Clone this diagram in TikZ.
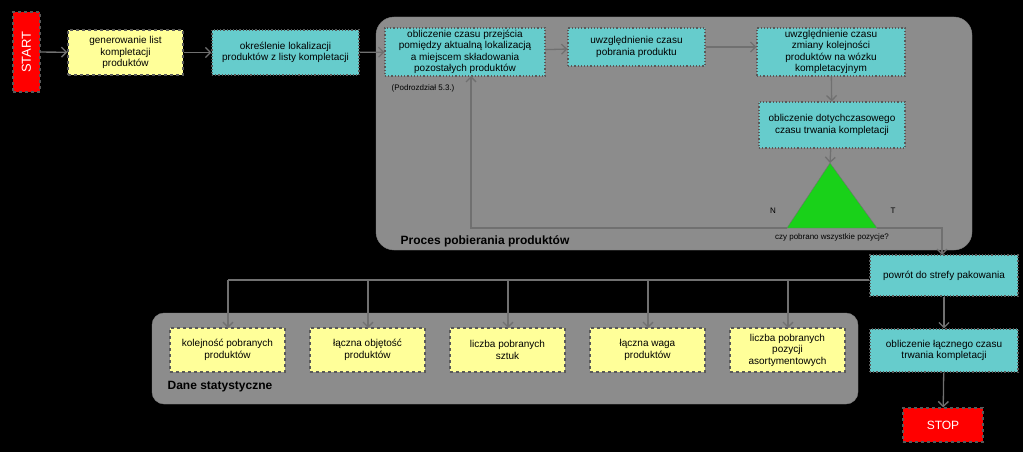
\documentclass[tikz,border=0pt]{standalone}
\usepackage{fontspec}
\setmainfont{Liberation Sans}
\usetikzlibrary{arrows.meta}
\definecolor{teal1}{HTML}{66CCCC}
\definecolor{yel}{HTML}{FFFF99}
\definecolor{grp}{HTML}{8C8C8C}
\definecolor{ln}{HTML}{707070}
\begin{document}
\begin{tikzpicture}[x=1pt,y=-1pt,
  base/.style={font=\fontsize{10}{11.5}\selectfont,align=center,inner sep=1pt,draw=black!65,line width=1.2pt},
  tbox/.style={base,fill=teal1,dotted},
  ybox/.style={base,fill=yel,dashed},
  rbox/.style={base,fill=red,dashed,text=white},
  grpbox/.style={fill=grp,draw=black!50,rounded corners=18pt},
  arr/.style={draw=ln,line width=1.3pt,-{Straight Barb[length=5pt,width=10pt]}},
  lin/.style={draw=ln,line width=1.3pt}]
\fill[black] (0,0) rectangle (1023,452);
\useasboundingbox (0,0) rectangle (1023,452);
\path[grpbox] (376,17) rectangle (972,250);
\path[grpbox,rounded corners=12pt] (152,313) rectangle (858,404);
\node[rbox,minimum width=27,minimum height=80] (start) at (26.5,52) {};
\node[text=white,rotate=90,font=\fontsize{13}{15}\selectfont] (startt) at (26.5,52) {START};
\node[ybox,minimum width=115,minimum height=45] (gen) at (125.5,52.5) {generowanie list\\kompletacji\\produktów};
\node[tbox,minimum width=147,minimum height=45] (okr) at (285.5,52.5) {określenie lokalizacji\\produktów z listy kompletacji};
\node[tbox,minimum width=160,minimum height=48] (obl) at (465,52) {obliczenie czasu przejścia\\pomiędzy aktualną lokalizacją\\a miejscem składowania\\pozostałych produktów};
\node[tbox,minimum width=137,minimum height=38] (pob) at (636.5,47) {uwzględnienie czasu\\pobrania produktu};
\node[tbox,minimum width=148,minimum height=48] (zm) at (831,52) {uwzględnienie czasu\\zmiany kolejności\\produktów na wózku\\kompletacyjnym};
\node[tbox,minimum width=146,minimum height=46] (dot) at (832,125) {obliczenie dotychczasowego\\czasu trwania kompletacji};
\node[font=\fontsize{8}{9}\selectfont] (pod) at (423,88) {(Podrozdział 5.3.)};
\draw[fill=green!80!black!90,draw=ln] (830,163) coordinate (apex) -- (877,228) coordinate (tr) -- (787,228) coordinate (tl) -- cycle;
\node[font=\fontsize{8}{9}\selectfont] (N) at (773,211) {N};
\node[font=\fontsize{8}{9}\selectfont] (T) at (893,211) {T};
\node[font=\fontsize{8}{9}\selectfont] (czy) at (832,237) {czy pobrano wszystkie pozycje?};
\node[font=\bfseries\fontsize{12}{14}\selectfont] (proc) at (485,241) {Proces pobierania produktów};
\node[tbox,minimum width=148,minimum height=41] (pow) at (944,275.5) {powrót do strefy pakowania};
\node[tbox,minimum width=148,minimum height=43] (lacz) at (944,350.5) {obliczenie łącznego czasu\\trwania kompletacji};
\node[rbox,minimum width=80,minimum height=34,font=\fontsize{12}{14}\selectfont] (stop) at (943,425) {STOP};
\node[font=\bfseries\fontsize{12}{14}\selectfont] (dane) at (220,387) {Dane statystyczne};
\node[ybox,minimum width=115,minimum height=44] (d1) at (227.5,350) {kolejność pobranych\\produktów};
\node[ybox,minimum width=115,minimum height=44] (d2) at (367.5,350) {łączna objętość\\produktów};
\node[ybox,minimum width=115,minimum height=44] (d3) at (507.5,350) {liczba pobranych\\sztuk};
\node[ybox,minimum width=115,minimum height=44] (d4) at (647.5,350) {łączna waga\\produktów};
\node[ybox,minimum width=115,minimum height=44] (d5) at (787.5,350) {liczba pobranych\\pozycji\\asortymentowych};
\coordinate (split) at (228,280);
\draw[arr] (start) -- (gen);
\draw[arr] (gen) -- (okr);
\draw[arr] (okr) -- (obl);
\draw[arr] (obl) -- (pob);
\draw[arr] (pob.east) -- (pob.east -| zm.west);
\draw[arr] (zm) -- (dot);
\draw[arr] (dot) -- (apex);
\draw[arr] (tl) -- (471,228) -- (471,76);
\draw[arr] (tr) -- (942,228) -- (942,255);
\draw[arr] (pow) -- (lacz);
\draw[arr] (lacz) -- (stop);
\draw[lin] (pow.west |- split) -- (split);
\foreach \d/\x in {d1/228,d2/368,d3/508,d4/648,d5/788}{
  \draw[arr] (\x,280) -- (\x,328);}
\end{tikzpicture}
\end{document}
